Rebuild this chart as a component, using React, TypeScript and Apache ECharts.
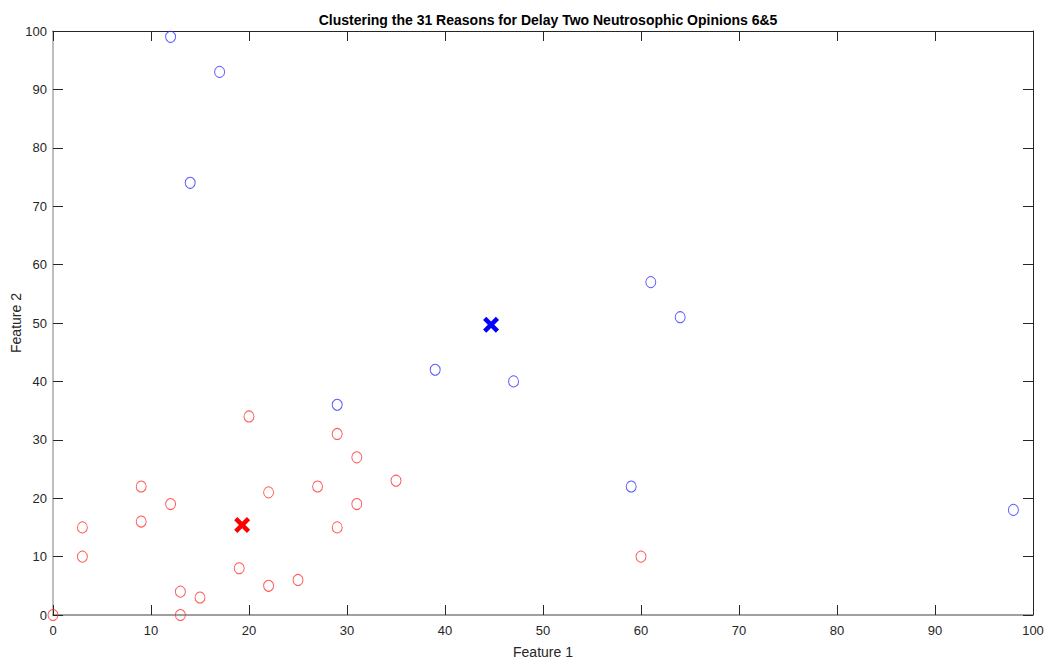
import React, { useEffect, useRef } from "react";
import * as echarts from "echarts";

const titleText = "Clustering the 31 Reasons for Delay Two Neutrosophic Opinions 6&5";
const xName = "Feature 1";
const yName = "Feature 2";

const cluster1: [number, number][] = [
  [0, 0], [3, 15], [3, 10], [9, 22], [9, 16], [12, 19], [13, 4], [13, 0],
  [15, 3], [19, 8], [20, 34], [22, 21], [22, 5], [25, 6], [27, 22], [29, 31],
  [29, 15], [31, 27], [31, 19], [35, 23], [60, 10],
];
const cluster2: [number, number][] = [
  [12, 99], [17, 93], [14, 74], [29, 36], [39, 42], [47, 40], [61, 57],
  [64, 51], [59, 22], [98, 18],
];
const centroid1: [number, number][] = [[19.3, 15.4]];
const centroid2: [number, number][] = [[44.7, 49.7]];

const X_PATH =
  "path://M0,2L2,0L5,3L8,0L10,2L7,5L10,8L8,10L5,7L2,10L0,8L3,5Z";

export default function App() {
  const ref = useRef<HTMLDivElement>(null);
  useEffect(() => {
    if (!ref.current) return;
    const chart = echarts.init(ref.current, null, { renderer: "svg" });
    const font = "'Liberation Sans', Arial, Helvetica, sans-serif";
    const tickStyle = { show: true, inside: true, length: 10, lineStyle: { color: "#262626", width: 1 } };
    chart.setOption({
      animation: false,
      backgroundColor: "#ffffff",
      title: {
        text: titleText,
        left: 543,
        textAlign: "center",
        top: 8,
        textStyle: { fontFamily: "'Liberation Sans Narrow', 'Liberation Sans', Arial, sans-serif", fontSize: 14, fontWeight: "bold", color: "#000" },
      },
      grid: { left: 53, right: 13, top: 31, bottom: 44, show: false, containLabel: false, outerBoundsMode: "none" },
      xAxis: [
        {
          type: "value", min: 0, max: 100, interval: 10, position: "bottom",
          name: xName, nameLocation: "middle", nameGap: 30, nameMoveOverlap: false,
          nameTextStyle: { fontFamily: font, fontSize: 14, color: "#262626" },
          axisLine: { show: true, onZero: false, lineStyle: { color: "#808080", width: 1.5 } },
          axisTick: tickStyle,
          axisLabel: { fontFamily: font, fontSize: 13, color: "#262626", margin: 9 },
          splitLine: { show: false },
        },
        {
          type: "value", min: 0, max: 100, interval: 10, position: "top",
          axisLine: { show: true, onZero: false, lineStyle: { color: "#262626", width: 1 } },
          axisTick: tickStyle,
          axisLabel: { show: false },
          splitLine: { show: false },
        },
      ],
      yAxis: [
        {
          type: "value", min: 0, max: 100, interval: 10, position: "left",
          name: yName, nameLocation: "middle", nameGap: 30, nameRotate: 90, nameMoveOverlap: false,
          nameTextStyle: { fontFamily: font, fontSize: 14, color: "#262626" },
          axisLine: { show: true, onZero: false, lineStyle: { color: "#a8a8a8", width: 1.5 } },
          axisTick: tickStyle,
          axisLabel: { fontFamily: font, fontSize: 13, color: "#262626", margin: 6 },
          splitLine: { show: false },
        },
        {
          type: "value", min: 0, max: 100, interval: 10, position: "right",
          axisLine: { show: true, onZero: false, lineStyle: { color: "#262626", width: 1 } },
          axisTick: tickStyle,
          axisLabel: { show: false },
          splitLine: { show: false },
        },
      ],
      series: [
        {
          type: "scatter", data: cluster1, symbol: "circle", symbolSize: [10, 11],
          itemStyle: { color: "none", borderColor: "#ff3030", borderWidth: 1 },
        },
        {
          type: "scatter", data: cluster2, symbol: "circle", symbolSize: [10, 11],
          itemStyle: { color: "none", borderColor: "#3030ff", borderWidth: 1 },
        },
        {
          type: "scatter", data: centroid1, symbol: X_PATH, symbolSize: 16, z: 5,
          itemStyle: { color: "#ff0000", opacity: 1 },
        },
        {
          type: "scatter", data: centroid2, symbol: X_PATH, symbolSize: 16, z: 5,
          itemStyle: { color: "#0000ff", opacity: 1 },
        },
      ],
    });
    return () => chart.dispose();
  }, []);
  return (
    <div
      ref={ref}
      style={{ position: "fixed", left: 0, top: 0, width: 1046, height: 659, background: "#fff" }}
    />
  );
}
